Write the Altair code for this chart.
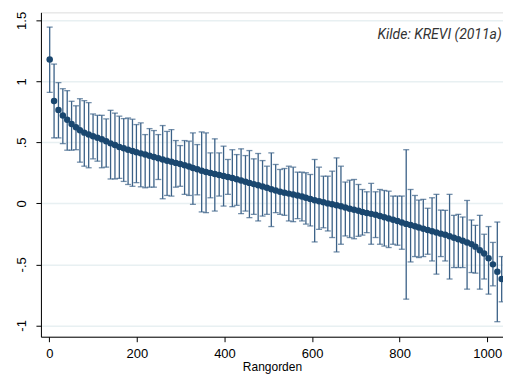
import altair as alt
import numpy as np
import pandas as pd

# Estimates (dots), one per error bar
estimate = [1.18, 0.84, 0.765, 0.72, 0.685, 0.65, 0.625, 0.60, 0.58, 0.565,
            0.55, 0.538, 0.525, 0.51, 0.492, 0.478, 0.462, 0.452, 0.44, 0.43,
            0.42, 0.41, 0.40, 0.39, 0.38, 0.37, 0.36, 0.35, 0.342, 0.332,
            0.322, 0.312, 0.302, 0.29, 0.28, 0.268, 0.258, 0.25, 0.24, 0.232,
            0.224, 0.216, 0.208, 0.198, 0.188, 0.178, 0.168, 0.158, 0.148, 0.138,
            0.128, 0.116, 0.106, 0.096, 0.088, 0.08, 0.072, 0.064, 0.056, 0.046,
            0.036, 0.026, 0.018, 0.01, 0.0, -0.008, -0.016, -0.024, -0.034, -0.044,
            -0.052, -0.06, -0.07, -0.078, -0.086, -0.094, -0.104, -0.114, -0.124, -0.134,
            -0.144, -0.156, -0.168, -0.178, -0.188, -0.198, -0.208, -0.218, -0.228, -0.238,
            -0.248, -0.258, -0.27, -0.282, -0.294, -0.306, -0.32, -0.334, -0.355, -0.385,
            -0.41, -0.45, -0.5, -0.56, -0.62]

upper = [1.445, 1.142, 0.99, 0.94, 0.924, 0.837, 0.80, 0.858, 0.842, 0.826,
         0.733, 0.722, 0.722, 0.692, 0.763, 0.74, 0.715, 0.695, 0.70, 0.69,
         0.646, 0.66, 0.564, 0.613, 0.597, 0.564, 0.638, 0.59, 0.605, 0.515,
         0.474, 0.515, 0.51, 0.578, 0.482, 0.586, 0.578, 0.414, 0.529, 0.414,
         0.469, 0.36, 0.44, 0.40, 0.447, 0.392, 0.433, 0.365, 0.409, 0.351,
         0.305, 0.414, 0.319, 0.278, 0.286, 0.305, 0.297, 0.256, 0.256, 0.251,
         0.237, 0.36, 0.297, 0.223, 0.223, 0.264, 0.373, 0.305, 0.175, 0.19,
         0.196, 0.155, 0.114, 0.095, 0.164, 0.095, 0.114, 0.106, 0.10, 0.06,
         0.06, 0.06, 0.44, 0.114, 0.065, 0.027, 0.033, -0.04, 0.046, 0.074,
         -0.055, -0.057, 0.074, -0.098, -0.09, -0.112, 0.024, -0.136, -0.18, -0.098,
         -0.253, -0.19, -0.32, -0.153, -0.436]

lower = [0.91, 0.537, 0.537, 0.49, 0.436, 0.436, 0.44, 0.338, 0.305, 0.292,
         0.365, 0.346, 0.292, 0.297, 0.20, 0.20, 0.205, 0.18, 0.155, 0.14,
         0.17, 0.136, 0.128, 0.133, 0.133, 0.196, 0.038, 0.065, 0.06, 0.133,
         0.14, 0.074, 0.065, -0.008, 0.07, -0.07, -0.076, 0.046, -0.063, 0.06,
         -0.022, 0.074, -0.027, -0.016, -0.084, -0.063, -0.117, -0.09, -0.144, -0.104,
         -0.09, -0.19, -0.076, -0.09, -0.098, -0.144, -0.15, -0.125, -0.144, -0.17,
         -0.185, -0.316, -0.213, -0.2, -0.226, -0.28, -0.398, -0.335, -0.267, -0.28,
         -0.29, -0.27, -0.26, -0.24, -0.335, -0.28, -0.335, -0.35, -0.362, -0.335,
         -0.343, -0.376, -0.785, -0.48, -0.436, -0.444, -0.436, -0.417, -0.472, -0.58,
         -0.436, -0.472, -0.62, -0.526, -0.526, -0.526, -0.703, -0.567, -0.572, -0.703,
         -0.62, -0.744, -0.676, -0.97, -0.807]

# Rank positions (evenly spaced index from 1 to 1033)
rank = np.linspace(1, 1033, len(estimate)).round().astype(int).tolist()

x_ticks = [0, 200, 400, 600, 800, 1000]
y_ticks = [-1, -0.5, 0, 0.5, 1, 1.5]
source_note = "Kilde: KREVI (2011a)"

df = pd.DataFrame({"rank": rank, "est": estimate, "lo": lower, "hi": upper})

W, H = 463, 325
xscale = alt.Scale(domain=[-19, 1036], nice=False, zero=False)
yscale = alt.Scale(domain=[-1.093, 1.566], nice=False, zero=False)

xaxis = alt.Axis(values=x_ticks, title="Rangorden", grid=False, format="d",
                 labelFont="Liberation Sans", labelFontSize=13, labelColor="#000",
                 titleFont="Liberation Sans", titleFontSize=12, titleFontWeight="normal",
                 titleColor="#000", titlePadding=1, tickSize=5, tickColor="#000",
                 domainColor="#000", labelPadding=6, labelFlush=False)
yaxis = alt.Axis(values=y_ticks, title=None, grid=True, gridColor="#e8f0f2", gridWidth=1.5,
                 labelExpr="replace(toString(datum.value), '0.', '.')",
                 labelFont="Liberation Sans", labelFontSize=13, labelColor="#000",
                 labelAngle=270, labelAlign="center", labelBaseline="bottom",
                 tickSize=5, tickColor="#000", domainColor="#000", labelPadding=7)

base = alt.Chart(df)

bars = base.mark_rule(color="#3b6187", strokeWidth=1.3).encode(
    x=alt.X("rank:Q", scale=xscale, axis=xaxis),
    y=alt.Y("lo:Q", scale=yscale, axis=yaxis),
    y2="hi:Q",
)
caps_hi = base.mark_tick(color="#3b6187", orient="horizontal", size=6, thickness=1.3).encode(
    x=alt.X("rank:Q", scale=xscale), y=alt.Y("hi:Q", scale=yscale))
caps_lo = base.mark_tick(color="#3b6187", orient="horizontal", size=6, thickness=1.3).encode(
    x=alt.X("rank:Q", scale=xscale), y=alt.Y("lo:Q", scale=yscale))
dots = base.mark_circle(color="#1a476f", size=42, opacity=1).encode(
    x=alt.X("rank:Q", scale=xscale), y=alt.Y("est:Q", scale=yscale))

note_df = pd.DataFrame({"x": [1033], "y": [1.38], "t": [source_note]})
note = alt.Chart(note_df).mark_text(align="right", baseline="middle", font="Roboto",
                                    fontStyle="italic", fontSize=14, color="#333").encode(
    x=alt.X("x:Q", scale=xscale), y=alt.Y("y:Q", scale=yscale), text="t:N")

chart = alt.layer(bars, caps_hi, caps_lo, dots, note).properties(
    width=W, height=H,
    autosize=alt.AutoSizeParams(type="none"),
    padding={"left": 33, "top": 4, "right": 0, "bottom": 38},
).configure_view(stroke=None).configure(background="white")

chart.save("out.html", embed_options={"renderer": "svg", "actions": False})
